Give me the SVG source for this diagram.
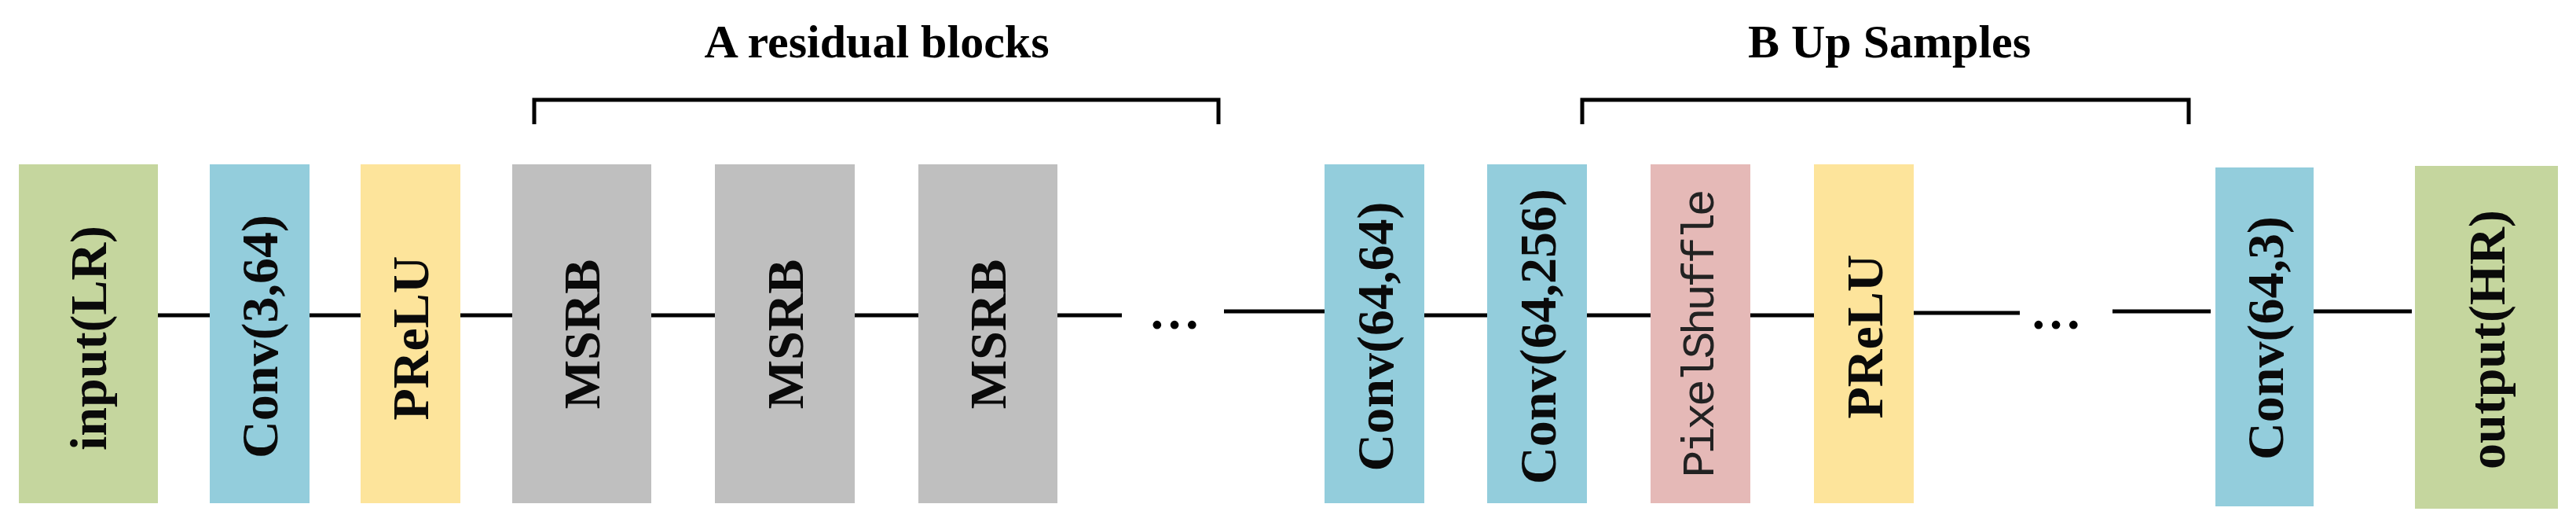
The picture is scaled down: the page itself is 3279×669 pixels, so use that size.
<svg xmlns="http://www.w3.org/2000/svg" width="3279" height="669" viewBox="0 0 3279 669">
<style>
.l{fill:#0a0a0a;font-family:"Liberation Serif",serif;font-weight:bold;font-size:66px;text-anchor:middle;dominant-baseline:central}
.m{fill:#222;font-family:"Liberation Mono",monospace;font-size:58px;text-anchor:middle;dominant-baseline:central}
.t{fill:#000;font-family:"Liberation Serif",serif;font-weight:bold;font-size:60px;text-anchor:middle}
.c{stroke:#000;stroke-width:5;fill:none}
.d{fill:#000;font-family:"Liberation Serif",serif;font-weight:bold;font-size:66px}
</style>
<rect width="3279" height="669" fill="#fff"/>
<g id="connectors" class="c">
<path d="M201 401H267M394 401H459M586 401H652M829 401H910M1088 401H1169M1346 401H1428M1558 396H1686M1813 401H1893M2020 401H2101M2228 401H2309M2436 398H2571M2689 396H2814M2929 396H3070"/>
<path d="M680 158V127H1551V158M2014 158V127H2786V158"/>
</g>
<text class="d" x="1462" y="418">…</text>
<text class="d" x="2584" y="418">…</text>
<text class="t" x="1116" y="73">A residual blocks</text>
<text class="t" x="2405" y="73">B Up Samples</text>
<g id="input"><rect x="24" y="209" width="177" height="431" fill="#C5D69E"/><text class="l" transform="translate(112,430) rotate(-90)">input(LR)</text></g>
<g id="conv1"><rect x="267" y="209" width="127" height="431" fill="#93CDDC"/><text class="l" transform="translate(330,428) rotate(-90)">Conv(3,64)</text></g>
<g id="prelu1"><rect x="459" y="209" width="127" height="431" fill="#FDE49B"/><text class="l" transform="translate(522,430) rotate(-90)">PReLU</text></g>
<g id="msrb1"><rect x="652" y="209" width="177" height="431" fill="#BFBFBF"/><text class="l" transform="translate(740,425) rotate(-90)">MSRB</text></g>
<g id="msrb2"><rect x="910" y="209" width="178" height="431" fill="#BFBFBF"/><text class="l" transform="translate(999,425) rotate(-90)">MSRB</text></g>
<g id="msrb3"><rect x="1169" y="209" width="177" height="431" fill="#BFBFBF"/><text class="l" transform="translate(1257,425) rotate(-90)">MSRB</text></g>
<g id="conv2"><rect x="1686" y="209" width="127" height="431" fill="#93CDDC"/><text class="l" transform="translate(1750,428) rotate(-90)">Conv(64,64)</text></g>
<g id="conv3"><rect x="1893" y="209" width="127" height="431" fill="#93CDDC"/><text class="l" transform="translate(1957,428) rotate(-90)">Conv(64,256)</text></g>
<g id="pixelshuffle"><rect x="2101" y="209" width="127" height="431" fill="#E5B9B7"/><text class="m" transform="translate(2165,424) rotate(-90)" textLength="367" lengthAdjust="spacing">PixelShuffle</text></g>
<g id="prelu2"><rect x="2309" y="209" width="127" height="431" fill="#FDE49B"/><text class="l" transform="translate(2373,428) rotate(-90)">PReLU</text></g>
<g id="conv4"><rect x="2820" y="213" width="125" height="431" fill="#93CDDC"/><text class="l" transform="translate(2883,430) rotate(-90)">Conv(64,3)</text></g>
<g id="output"><rect x="3074" y="211" width="182" height="436" fill="#C5D69E"/><text class="l" transform="translate(3165,432) rotate(-90)">output(HR)</text></g>
</svg>
